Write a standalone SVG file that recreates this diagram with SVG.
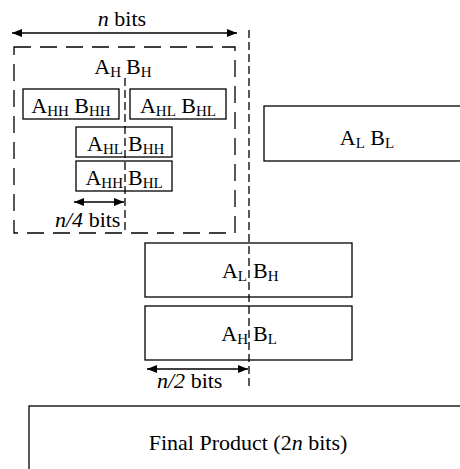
<svg xmlns="http://www.w3.org/2000/svg" width="460" height="469" viewBox="0 0 460 469">
<defs>
<marker id="ah" viewBox="0 0 10 8" refX="10" refY="4" markerWidth="10" markerHeight="8" markerUnits="userSpaceOnUse" orient="auto-start-reverse">
<path d="M0,0 L10,4 L0,8 Z" fill="#000"/>
</marker>
</defs>
<style>
text{font-family:"Liberation Serif","Times New Roman",serif;font-size:22px;fill:#000}
.s{font-size:15px}
.i{font-style:italic}
.box{fill:#fff;stroke:#000;stroke-width:1.3}
.dash{fill:none;stroke:#000;stroke-width:1.3;stroke-dasharray:17 9}
.vl{fill:none;stroke:#000;stroke-width:1.3;stroke-dasharray:8 4}
.arr{fill:none;stroke:#000;stroke-width:1.5;marker-start:url(#ah);marker-end:url(#ah)}
</style>
<rect width="460" height="469" fill="#fff"/>
<g id="label-n-bits"><text x="122" y="26" text-anchor="middle"><tspan class="i">n</tspan> bits</text></g>
<g id="label-AHBH"><text x="121" y="74" text-anchor="end">A<tspan class="s" dy="3">H</tspan></text><text x="126" y="74">B<tspan class="s" dy="3">H</tspan></text></g>
<g id="node-AHH-BHH"><rect class="box" x="23" y="89" width="96" height="30"/><text x="71" y="113" text-anchor="middle">A<tspan class="s" dy="3">HH</tspan><tspan dy="-3"> B</tspan><tspan class="s" dy="3">HH</tspan></text></g>
<g id="node-AHL-BHL"><rect class="box" x="130" y="89" width="96" height="30"/><text x="178" y="113" text-anchor="middle">A<tspan class="s" dy="3">HL</tspan><tspan dy="-3"> B</tspan><tspan class="s" dy="3">HL</tspan></text></g>
<g id="node-AHL-BHH"><rect class="box" x="76" y="127" width="96" height="30"/><text x="123" y="151" text-anchor="end">A<tspan class="s" dy="3">HL</tspan></text><text x="128" y="151">B<tspan class="s" dy="3">HH</tspan></text></g>
<g id="node-AHH-BHL"><rect class="box" x="76" y="161" width="96" height="30"/><text x="123" y="185" text-anchor="end">A<tspan class="s" dy="3">HH</tspan></text><text x="128" y="185">B<tspan class="s" dy="3">HL</tspan></text></g>
<g id="label-n4"><text x="55" y="227"><tspan class="i">n/4</tspan> bits</text></g>
<g id="node-AL-BL"><rect class="box" x="264" y="106" width="210" height="55"/><text x="367" y="145" text-anchor="middle">A<tspan class="s" dy="3">L</tspan><tspan dy="-3"> B</tspan><tspan class="s" dy="3">L</tspan></text></g>
<g id="node-AL-BH"><rect class="box" x="145" y="243" width="207" height="54"/><text x="247" y="278" text-anchor="end">A<tspan class="s" dy="3">L</tspan></text><text x="253" y="278">B<tspan class="s" dy="3">H</tspan></text></g>
<g id="node-AH-BL"><rect class="box" x="145" y="306" width="207" height="54"/><text x="248" y="341" text-anchor="end">A<tspan class="s" dy="3">H</tspan></text><text x="253" y="341">B<tspan class="s" dy="3">L</tspan></text></g>
<g id="label-n2"><text x="157" y="388"><tspan class="i">n/2</tspan> bits</text></g>
<g id="node-final"><rect class="box" x="29" y="406" width="450" height="80"/><text x="248" y="450" text-anchor="middle">Final Product (2<tspan class="i">n</tspan> bits)</text></g>
<g id="connectors">
<rect class="dash" x="14" y="47" width="221" height="186"/>
<line class="vl" x1="249" y1="30" x2="249" y2="386"/>
<line class="vl" x1="125" y1="78" x2="125" y2="230"/>
<line class="arr" x1="12" y1="33" x2="237" y2="33"/>
<line class="arr" x1="74" y1="202" x2="124" y2="202"/>
<line class="arr" x1="147" y1="369" x2="248" y2="369"/>
</g>
</svg>
